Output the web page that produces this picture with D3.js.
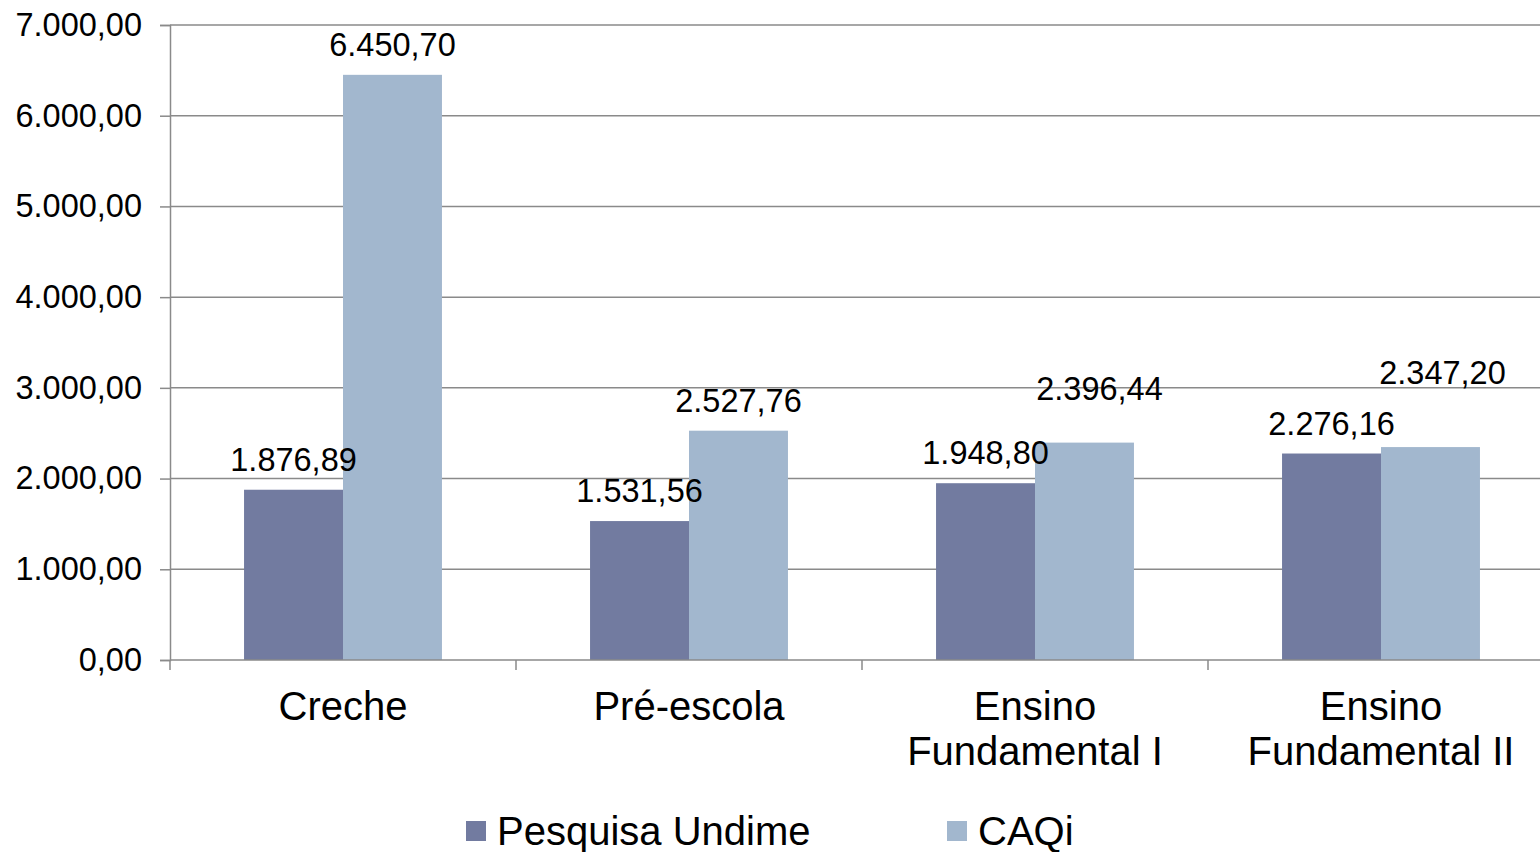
<!DOCTYPE html>
<html>
<head>
<meta charset="utf-8">
<script src="https://cdn.jsdelivr.net/npm/d3@7"></script>
<style>
  body { margin: 0; background: #fff; }
  text { font-family: "Liberation Sans", Arial, sans-serif; fill: #000; }
</style>
</head>
<body>
<div id="chart"></div>
<script>
// data
var categories = ['Creche', 'Pré-escola', 'Ensino Fundamental I', 'Ensino Fundamental II'];
var categoryLines = [['Creche'], ['Pré-escola'], ['Ensino', 'Fundamental I'], ['Ensino', 'Fundamental II']];
var seriesNames = ['Pesquisa Undime', 'CAQi'];
var undime = [1876.89, 1531.56, 1948.80, 2276.16];
var caqi = [6450.70, 2527.76, 2396.44, 2347.20];
var yTicks = [0, 1000, 2000, 3000, 4000, 5000, 6000, 7000];
// label nudges (dx, dy) where the original moved labels to avoid overlaps
var undimeNudge = [[0, 0], [0, 0], [0, 0], [0, 0]];
var caqiNudge = [[0, 0], [0, 0], [15, -24], [12, -44]];

var colors = ['#727ba0', '#a2b7ce'];

var width = 1540;
var height = 852;
var plotLeft = 170;
var plotRight = 1554;
var plotTop = 25;
var plotBottom = 660;

var svg = d3.select('#chart')
	.append('svg')
	.attr('width', width)
	.attr('height', height);

var x0 = d3.scaleBand()
	.domain(categories)
	.range([plotLeft, plotRight])
	.paddingInner(0.428)
	.paddingOuter(0.214);

var x1 = d3.scaleBand()
	.domain(seriesNames)
	.range([0, x0.bandwidth()]);

var y = d3.scaleLinear()
	.domain([0, 7000])
	.range([plotBottom, plotTop]);

var fmt = d3.formatLocale({ decimal: ',', thousands: '.', grouping: [3], currency: ['R$', ''] }).format(',.2f');

// gridlines
svg.append('g')
	.selectAll('line')
	.data(yTicks.slice(1))
	.join('line')
	.attr('x1', plotLeft)
	.attr('x2', width)
	.attr('y1', d => y(d))
	.attr('y2', d => y(d))
	.attr('stroke', '#8a8a8a')
	.attr('stroke-width', 1.5);

// y axis
var yAxis = svg.append('g')
	.attr('transform', 'translate(' + plotLeft + ',0)')
	.call(d3.axisLeft(y).tickValues(yTicks).tickSize(10).tickPadding(18).tickFormat(fmt));
yAxis.select('.domain').attr('stroke', '#8a8a8a').attr('stroke-width', 1.5);
yAxis.selectAll('.tick line').attr('stroke', '#8a8a8a').attr('stroke-width', 1.5);
yAxis.selectAll('.tick text').attr('font-size', 32.5).attr('font-family', '"Liberation Sans", Arial, sans-serif').attr('fill', '#000');

// bars
var groups = svg.append('g')
	.selectAll('g')
	.data(categories)
	.join('g')
	.attr('transform', d => 'translate(' + x0(d) + ',0)');

var rows = categories.map(function(c, i) {
	return [
		{ cat: c, s: seriesNames[0], v: undime[i], nudge: undimeNudge[i], color: colors[0] },
		{ cat: c, s: seriesNames[1], v: caqi[i], nudge: caqiNudge[i], color: colors[1] }
	];
});

groups.each(function(c, i) {
	var g = d3.select(this);
	g.selectAll('rect')
		.data(rows[i])
		.join('rect')
		.attr('x', d => x1(d.s))
		.attr('y', d => y(d.v))
		.attr('width', x1.bandwidth())
		.attr('height', d => plotBottom - y(d.v))
		.attr('fill', d => d.color);
	g.selectAll('text.val')
		.data(rows[i])
		.join('text')
		.attr('class', 'val')
		.attr('x', d => x1(d.s) + x1.bandwidth() / 2 + d.nudge[0])
		.attr('y', d => y(d.v) - 19 + d.nudge[1])
		.attr('text-anchor', 'middle')
		.attr('font-size', 32.5)
		.text(d => fmt(d.v));
});

// x axis
var xAxis = svg.append('g')
	.attr('transform', 'translate(0,' + plotBottom + ')');
xAxis.append('line')
	.attr('x1', plotLeft)
	.attr('x2', width)
	.attr('stroke', '#8a8a8a')
	.attr('stroke-width', 1.5);
var boundaries = categories.map(c => x0(c) - x0.step() * x0.paddingInner() / 2);
xAxis.selectAll('line.tick')
	.data(boundaries)
	.join('line')
	.attr('class', 'tick')
	.attr('x1', d => d)
	.attr('x2', d => d)
	.attr('y1', 0)
	.attr('y2', 10)
	.attr('stroke', '#8a8a8a')
	.attr('stroke-width', 1.5);

xAxis.selectAll('text')
	.data(categories)
	.join('text')
	.attr('x', d => x0(d) + x0.bandwidth() / 2)
	.attr('y', 60)
	.attr('text-anchor', 'middle')
	.attr('font-size', 40)
	.each(function(d, i) {
		var t = d3.select(this);
		categoryLines[i].forEach(function(line, j) {
			t.append('tspan')
				.attr('x', x0(d) + x0.bandwidth() / 2)
				.attr('dy', j === 0 ? 0 : 45)
				.text(line);
		});
	});

// legend
var legendX = [466, 947];
var legend = svg.append('g')
	.selectAll('g')
	.data(seriesNames)
	.join('g')
	.attr('transform', (d, i) => 'translate(' + legendX[i] + ',821)');
legend.append('rect')
	.attr('width', 20)
	.attr('height', 20)
	.attr('fill', (d, i) => colors[i]);
legend.append('text')
	.attr('x', 31)
	.attr('y', 24)
	.attr('font-size', 40)
	.text(d => d);
</script>
</body>
</html>
